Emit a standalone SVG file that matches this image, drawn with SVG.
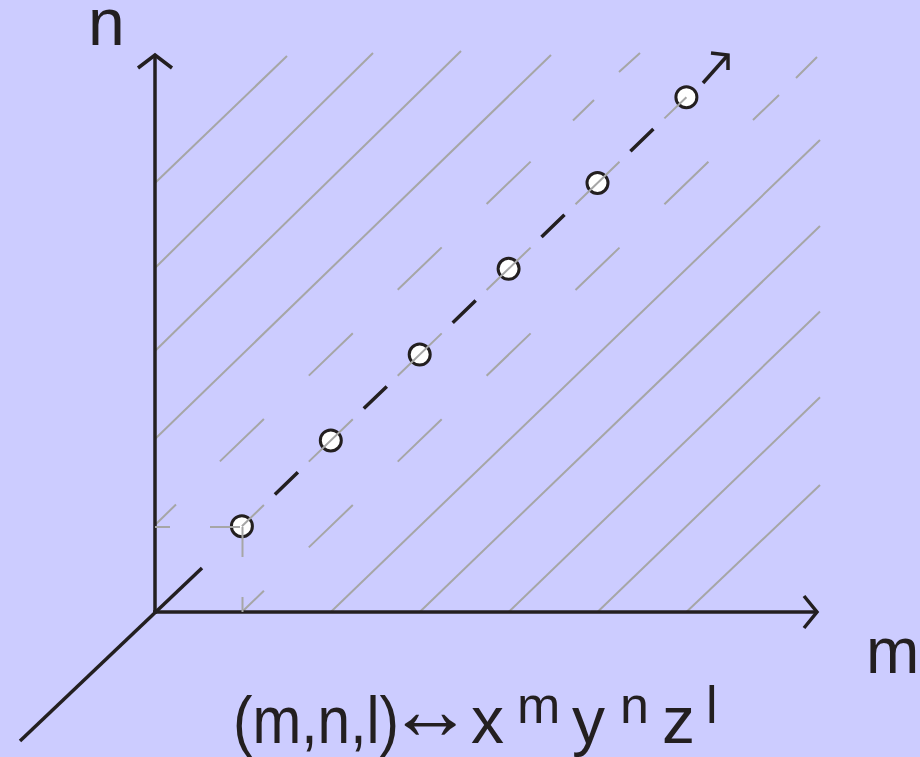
<svg xmlns="http://www.w3.org/2000/svg" width="920" height="757" viewBox="0 0 920 757">
<style>
.g{stroke:#a6a6a6;stroke-width:2;fill:none;stroke-linecap:butt}
.k{stroke:#231f20;stroke-width:3.5;fill:none;stroke-linecap:butt}
.pt{fill:#ffffff;stroke:#231f20;stroke-width:3}
.t{font-family:"Liberation Sans",Arial,sans-serif;fill:#231f20}
</style>
<rect x="0" y="0" width="920" height="757" fill="#ccccff"/>
<g id="hatch">
<line class="g" x1="155" y1="439" x2="551" y2="55"/>
<line class="g" x1="155" y1="351" x2="461" y2="51"/>
<line class="g" x1="155" y1="268" x2="373" y2="53"/>
<line class="g" x1="155" y1="183" x2="287" y2="56"/>
<line class="g" x1="330.8" y1="612" x2="820" y2="140"/>
<line class="g" x1="419.7" y1="612" x2="820" y2="226"/>
<line class="g" x1="508.6" y1="612" x2="820" y2="311.5"/>
<line class="g" x1="597.5" y1="612" x2="820" y2="397.3"/>
<line class="g" x1="686.4" y1="612" x2="820" y2="485"/>
<path class="g" d="M155,525 L176,504.5 M219.9,461.4 L263.9,419 M308.8,375.6 L352.8,333.2 M397.7,289.8 L441.7,247.4 M486.6,204 L530.6,161.6 M573,120.5 L594,100 M619,72 L640,53"/>
<path class="g" d="M241.9,612 L263.9,590.8 M308.8,547.4 L352.8,505 M397.7,461.6 L441.7,419.2 M486.6,375.8 L530.6,333.4 M575.5,290 L619.5,247.6 M664.4,204.2 L708.4,161.8 M753,120 L779,95 M796,78 L817,57"/>
</g>
<g id="axes">
<line id="n-axis" class="k" x1="155" y1="614" x2="155" y2="56"/>
<polyline class="k" points="138,68 155,55 172,68"/>
<line id="m-axis" class="k" x1="153" y1="612" x2="816" y2="612"/>
<polyline class="k" points="804,596 817,612 804,628"/>
<line id="l-axis" class="k" x1="20" y1="741" x2="202" y2="568"/>
</g>
<g id="diagonal">
<path class="k" d="M274.9,494.4 L297.9,472.2 M363.8,408.6 L386.8,386.4 M452.7,322.8 L475.7,300.6 M541.5,237 L564.5,214.8 M630.4,151.2 L653.4,129"/>
<line class="k" x1="703" y1="83" x2="727" y2="56"/>
<polyline class="k" points="711,53 728,55 728,70"/>
</g>
<g id="points">
<circle id="p1" class="pt" cx="241.9" cy="526.2" r="10.5"/>
<circle id="p2" class="pt" cx="330.8" cy="440.4" r="10.5"/>
<circle id="p3" class="pt" cx="419.7" cy="354.6" r="10.5"/>
<circle id="p4" class="pt" cx="508.6" cy="268.8" r="10.5"/>
<circle id="p5" class="pt" cx="597.5" cy="183" r="10.5"/>
<circle id="p6" class="pt" cx="686.4" cy="97.2" r="10.5"/>
</g>
<g id="diag-gray">
<path class="g" d="M241.9,526.2 L263.9,505 M308.8,461.6 L352.8,419.2 M397.7,375.8 L441.7,333.4 M486.6,290 L530.6,247.6 M575.5,204.2 L619.5,161.8 M664.4,118.4 L686.4,97.2"/>
<line class="g" x1="240" y1="527" x2="155" y2="527" stroke-dasharray="30 40"/>
<line class="g" x1="242.5" y1="527" x2="242.5" y2="612" stroke-dasharray="30 40"/>
</g>
<g id="labels">
<text class="t" x="88" y="45" font-size="66">n</text>
<text class="t" x="866" y="673" font-size="64">m</text>
<text class="t" y="743" font-size="66"><tspan x="233" textLength="166" lengthAdjust="spacingAndGlyphs">(m,n,l)</tspan><tspan x="387" y="739" font-size="86">↔</tspan><tspan x="471" y="743">x</tspan><tspan x="517" y="723" font-size="52">m</tspan><tspan x="572" y="743">y</tspan><tspan x="620" y="723" font-size="52">n</tspan><tspan x="662" y="743">z</tspan><tspan x="706" y="723" font-size="52">l</tspan></text>
</g>
</svg>
